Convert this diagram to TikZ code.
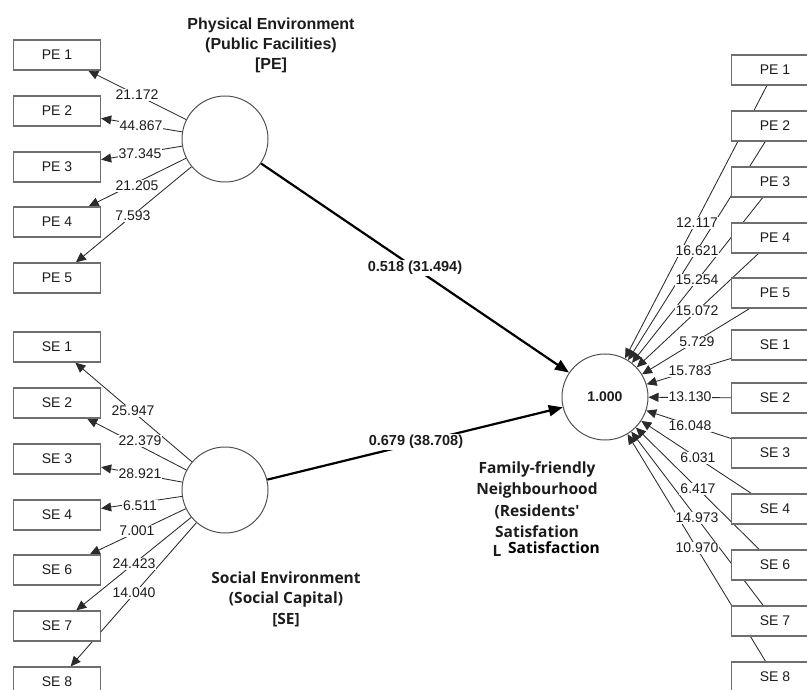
\documentclass[tikz,border=0pt]{standalone}
\usepackage{fontspec}
\setmainfont{Liberation Sans}
\newfontfamily\osans{Open Sans}
\usetikzlibrary{arrows.meta,backgrounds}
\definecolor{boxgray}{HTML}{6E6E6E}
\definecolor{circgray}{HTML}{505050}
\definecolor{linegray}{HTML}{2A2A2A}
\definecolor{txt}{HTML}{1C1C1C}
\begin{document}
\begin{tikzpicture}[x=1pt,y=-1pt,
  ind/.style={draw=boxgray, line width=1.3pt, fill=white, minimum width=87pt, minimum height=30pt, inner sep=0pt, text=txt, font=\fontsize{14}{16}\selectfont},
  lat/.style={circle, draw=circgray, line width=1pt, fill=white, minimum size=86pt, inner sep=0pt},
  ld/.style={draw=linegray, line width=0.85pt, -{Triangle[length=10pt,width=9pt]}},
  pth/.style={draw=black, line width=2.2pt, -{Triangle[length=14pt,width=11pt]}},
  val/.style={fill=white, inner sep=1pt, text=txt, font=\fontsize{14}{16}\selectfont},
  bval/.style={fill=white, inner sep=1.5pt, text=txt, font=\fontsize{14.5}{16}\selectfont\bfseries},
  ttlA/.style={align=center, text=txt, font=\fontsize{16}{20}\selectfont\bfseries},
  ttlB/.style={align=center, text=txt, font=\fontsize{15.5}{20.5}\selectfont\osans\bfseries},
]
\useasboundingbox (0,0) rectangle (807,690);

% latent variables
\node[lat] (pe) at (225,139) {};
\node[lat] (se) at (225,490) {};
\node[lat, font=\fontsize{14}{16}\selectfont\bfseries, text=txt] (ff) at (605,397) {1.000};

% left indicators
\node[ind] (lpe1) at (57,55) {PE 1};
\node[ind] (lpe2) at (57,111) {PE 2};
\node[ind] (lpe3) at (57,167) {PE 3};
\node[ind] (lpe4) at (57,222) {PE 4};
\node[ind] (lpe5) at (57,278) {PE 5};
\node[ind] (lse1) at (57,347) {SE 1};
\node[ind] (lse2) at (57,403) {SE 2};
\node[ind] (lse3) at (57,459) {SE 3};
\node[ind] (lse4) at (57,515) {SE 4};
\node[ind] (lse6) at (57,570) {SE 6};
\node[ind] (lse7) at (57,626) {SE 7};
\node[ind] (lse8) at (57,682) {SE 8};

% right indicators
\node[ind] (rpe1) at (775,70) {PE 1};
\node[ind] (rpe2) at (775,126) {PE 2};
\node[ind] (rpe3) at (775,182) {PE 3};
\node[ind] (rpe4) at (775,238) {PE 4};
\node[ind] (rpe5) at (775,293) {PE 5};
\node[ind] (rse1) at (775,345) {SE 1};
\node[ind] (rse2) at (775,398) {SE 2};
\node[ind] (rse3) at (775,453) {SE 3};
\node[ind] (rse4) at (775,509) {SE 4};
\node[ind] (rse6) at (775,565) {SE 6};
\node[ind] (rse7) at (775,621) {SE 7};
\node[ind] (rse8) at (775,677) {SE 8};

\begin{pgfonlayer}{background}
  \draw[ld] (pe) -- (lpe1);
  \draw[ld] (pe) -- (lpe2);
  \draw[ld] (pe) -- (lpe3);
  \draw[ld] (pe) -- (lpe4);
  \draw[ld] (pe) -- (lpe5);
  \draw[ld] (se) -- (lse1);
  \draw[ld] (se) -- (lse2);
  \draw[ld] (se) -- (lse3);
  \draw[ld] (se) -- (lse4);
  \draw[ld] (se) -- (lse6);
  \draw[ld] (se) -- (lse7);
  \draw[ld] (se) -- (lse8);
  \draw[ld] (rpe1) -- (ff);
  \draw[ld] (rpe2) -- (ff);
  \draw[ld] (rpe3) -- (ff);
  \draw[ld] (rpe4) -- (ff);
  \draw[ld] (rpe5) -- (ff);
  \draw[ld] (rse1) -- (ff);
  \draw[ld] (rse2) -- (ff);
  \draw[ld] (rse3) -- (ff);
  \draw[ld] (rse4) -- (ff);
  \draw[ld] (rse6) -- (ff);
  \draw[ld] (rse7) -- (ff);
  \draw[ld] (rse8) -- (ff);
  \draw[pth] (pe) -- (ff);
  \draw[pth] (se) -- (ff);
\end{pgfonlayer}

% left loadings
\node[val] (v1) at (137,95) {21.172};
\node[val] (v2) at (141,126) {44.867};
\node[val] (v3) at (140,154) {37.345};
\node[val] (v4) at (137,186) {21.205};
\node[val] (v5) at (133,216) {7.593};
\node[val] (v6) at (133,411) {25.947};
\node[val] (v7) at (140,441) {22.379};
\node[val] (v8) at (140,474) {28.921};
\node[val] (v9) at (140,506) {6.511};
\node[val] (v10) at (137,531) {7.001};
\node[val] (v11) at (134,564) {24.423};
\node[val] (v12) at (134,593) {14.040};

% right loadings
\node[val] (w1) at (697,223) {12.117};
\node[val] (w2) at (697,251) {16.621};
\node[val] (w3) at (697,280) {15.254};
\node[val] (w4) at (697,311) {15.072};
\node[val] (w5) at (697,342) {5.729};
\node[val] (w6) at (690,371) {15.783};
\node[val] (w7) at (690,397) {13.130};
\node[val] (w8) at (690,426) {16.048};
\node[val] (w9) at (698,458) {6.031};
\node[val] (w10) at (698,489) {6.417};
\node[val] (w11) at (697,518) {14.973};
\node[val] (w12) at (697,548) {10.970};

% path coefficients
\node[bval] (p1) at (415,268) {0.518 (31.494)};
\node[bval] (p2) at (416,442) {0.679 (38.708)};

% titles
\node[ttlA] (tpe) at (271,45) {Physical Environment\\(Public Facilities)\\{[PE]}};
\node[ttlB] (tse) at (286,599) {Social Environment\\(Social Capital)\\{[SE]}};
\node[align=center, text=txt, font=\fontsize{15.5}{21.5}\selectfont\osans\bfseries] (tff) at (537,499.5) {Family-friendly\\Neighbourhood\\(Residents'\\Satisfation};
\node[text=txt, inner sep=0pt, font=\fontsize{15.5}{18}\selectfont\osans\bfseries] (tl) at (497,551) {L};
\node[fill=white, text=black, inner sep=1pt, font=\fontsize{15.5}{18}\selectfont\osans\bfseries] (tsat) at (554,548) {Satisfaction};
\end{tikzpicture}
\end{document}
